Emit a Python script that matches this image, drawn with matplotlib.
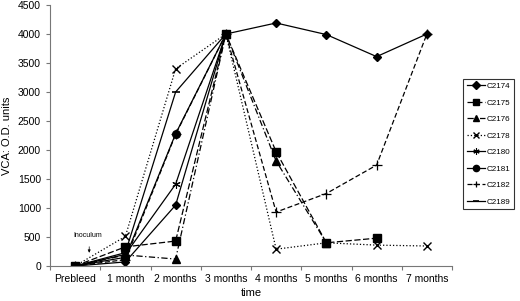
import matplotlib.pyplot as plt
import numpy as np

plt.rcParams['font.family'] = ['Liberation Sans', 'DejaVu Sans']

# Data
categories = ['Prebleed', '1 month', '2 months', '3 months', '4 months',
              '5 months', '6 months', '7 months']
c2174 = [0, 70, 1050, 4000, 4190, 3990, 3610, 4000]
c2175 = [0, 330, 430, 4000, 1970, 400, 480]
c2176 = [0, 190, 120, 4000, 1810, 400]
c2178 = [0, 510, 3400, 4000, 290, 400, 360, 345]
c2180 = [0, 200, 1410, 4000]
c2181 = [0, 150, 2280, 4000]
c2182 = [0, 110, 2270, 4000, 930, 1250, 1740, 4000]
c2189 = [0, 230, 3000, 4000]

series = [
    ('C2174', c2174, dict(ls='-', marker='D', ms=4.5)),
    ('C2175', c2175, dict(ls=(0, (5, 2)), marker='s', ms=6)),
    ('C2176', c2176, dict(ls=(0, (5, 2, 1, 2)), marker='^', ms=5.5)),
    ('C2178', c2178, dict(ls=':', marker='x', ms=6, mew=1)),
    ('C2180', c2180, dict(ls='-', marker=(6, 2, 0), ms=6, mew=0.8)),
    ('C2181', c2181, dict(ls='-', marker='o', ms=5.5)),
    ('C2182', c2182, dict(ls=(0, (4, 2)), marker='+', ms=7, mew=0.9)),
    ('C2189', c2189, dict(ls='-', marker='_', ms=6, mew=1.2)),
]

fig = plt.figure(figsize=(5.2, 3.01), dpi=100)
ax = fig.add_axes([50 / 520, 35 / 301, 402 / 520, 261 / 301])

x = np.arange(len(categories))
for name, vals, st in series:
    ax.plot(x[:len(vals)], vals, color='black', lw=0.9, label=name,
            mfc='black', mec='black', **st)

ax.set_xlim(-0.5, len(categories) - 0.5)
ax.set_ylim(0, 4500)
ax.set_yticks(np.arange(0, 4501, 500))
ax.set_xticks(x)
ax.set_xticklabels(categories)
ax.set_xticks(np.arange(-0.5, len(categories), 1.0), minor=True)
ax.tick_params(axis='x', which='major', length=0, pad=6, labelsize=7.5)
ax.tick_params(axis='x', which='minor', length=3, width=0.8, color='#777777')
ax.tick_params(axis='y', length=3, width=0.8, color='#777777', labelsize=7.5)
for s in ['top', 'right']:
    ax.spines[s].set_visible(False)
for s in ['left', 'bottom']:
    ax.spines[s].set_color('#777777')
    ax.spines[s].set_linewidth(0.8)

ax.set_xlabel('time', fontsize=8, labelpad=3)
ax.set_ylabel('VCA: O.D. units', fontsize=8, labelpad=4)

ax.annotate('Inoculum', xy=(0.25, 60), xytext=(0.25, 520), fontsize=5,
            ha='center', va='center')
ax.annotate('', xy=(0.28, 180), xytext=(0.28, 380),
            arrowprops=dict(arrowstyle='-|>', lw=0.5, color='black',
                            mutation_scale=4))

leg = fig.legend(loc='upper left', bbox_to_anchor=(463 / 520, 1 - 79 / 301),
                 fontsize=5.8, frameon=True, fancybox=False, handlelength=2.3,
                 labelspacing=1.1, borderpad=0.45, handletextpad=0.15,
                 borderaxespad=0)
leg.get_frame().set_edgecolor('black')
leg.get_frame().set_linewidth(0.8)
for h in leg.legend_handles:
    h.set_markersize(4.5)

fig.savefig('out.png', dpi=100)
